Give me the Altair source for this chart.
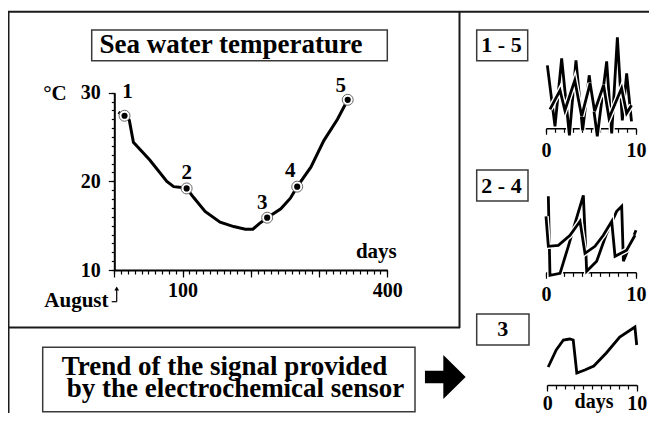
import altair as alt
import pandas as pd

FONT = "Liberation Serif"
W, H = 641, 405

# ---------------- data ----------------
# main curve: sea water temperature (°C) vs days from August
main_days = [6, 15, 22, 28, 52, 77, 87, 99, 106, 116, 133, 155, 175, 192, 203, 212, 224, 244, 258, 268, 288, 307, 327, 342]
main_temp = [27.8, 27.4, 26.9, 24.4, 22.4, 20.0, 19.4, 19.3, 19.2, 18.2, 16.6, 15.4, 14.9, 14.6, 14.6, 15.2, 15.9, 16.9, 18.1, 19.4, 21.6, 24.6, 27.0, 29.2]

sample_ids = ["1", "2", "3", "4", "5"]
sample_days = [15, 106, 224, 268, 342]
sample_temp = [27.4, 19.2, 15.9, 19.4, 29.2]

x_major = [0, 100, 200, 300, 400]
x_labelled = [100, 400]
x_minor = list(range(0, 401, 10))
y_major = [10, 20, 30]
y_minor = list(range(10, 31))

# sensor signal panels (days 0-10, arbitrary signal units)
p1a_days = [0.15, 1.0, 1.74, 2.6, 3.33, 4.07, 4.8, 5.7, 6.74, 7.3, 7.93, 8.48, 8.96, 9.5]
p1a_vals = [63, 2, 70, -7, 68, -2, 53, -8, 67, -5, 91, 8, 55, 7]
p1b_days = [0.44, 1.56, 2.1, 3.2, 3.96, 4.9, 5.4, 6.4, 7.0, 8.4, 8.96, 9.5]
p1b_vals = [19, 38, 18, 48, 12, 45, 17, 43, 10, 40, 15, 23]

p2a_days = [0.26, 0.44, 1.56, 2.48, 3.22, 4.15, 4.52, 5.63, 6.74, 7.85, 8.41, 8.6, 10.0]
p2a_vals = [76, -3, -1, 26, 49, 77, 1, 11, 39, 61, 66, 11, 42]
p2b_days = [0.0, 0.26, 1.37, 2.67, 3.78, 4.33, 5.44, 6.37, 7.3, 7.67, 8.96, 9.89]
p2b_vals = [56, 26, 27, 37, 51, 19, 26, 37, 51, 16, 22, 37]

p3_days = [0.1, 1.0, 1.8, 2.5, 2.9, 3.3, 4.2, 5.2, 6.6, 8.1, 9.8, 10.0]
p3_vals = [18, 35, 45, 46, 45, 12, 15, 19, 32, 48, 58, 40]

mini_major = [0, 10]
mini_minor = list(range(0, 11))

ONE = pd.DataFrame({"k": [0]})

# ---------------- helpers ----------------
def rule(x, y, x2, y2, w=2.0, color="#1a1a1a"):
    return alt.Chart(ONE).mark_rule(color=color, strokeWidth=w).encode(
        x=alt.value(x), y=alt.value(y), x2=alt.value(x2), y2=alt.value(y2))


def box(x, y, x2, y2, w=1.5, color="#3a3a3a"):
    return alt.Chart(ONE).mark_rect(fill="white", stroke=color, strokeWidth=w).encode(
        x=alt.value(x), y=alt.value(y), x2=alt.value(x2), y2=alt.value(y2))


def label(text, x, y, size=20, align="center"):
    return alt.Chart(ONE).mark_text(
        text=text, font=FONT, fontWeight="bold", fontSize=size, align=align,
        baseline="alphabetic", color="black").encode(x=alt.value(x), y=alt.value(y))


def xaxis(offset, values, tick, labelled=None, domain=True, dw=2.0, pad=4.0, lsize=20):
    kw = dict(orient="bottom", offset=offset, values=values, tickSize=tick,
              tickColor="black", tickWidth=1.2, grid=False, title=None,
              domain=domain)
    if domain:
        kw.update(domainColor="black", domainWidth=dw)
    if labelled is None:
        kw.update(labels=False)
    else:
        arr = "[" + ",".join(str(v) for v in labelled) + "]"
        kw.update(labelExpr=f"indexof({arr}, datum.value) >= 0 ? datum.label : ''",
                  labelFont=FONT, labelFontWeight="bold", labelFontSize=lsize,
                  labelColor="black", labelPadding=pad, labelFlush=False,
                  labelOverlap=False)
    return alt.Axis(**kw)


def yaxis(offset, values, tick, labelled=False, domain=True, pad=8.0):
    kw = dict(orient="left", offset=offset, values=values, tickSize=tick,
              tickColor="black", tickWidth=1.2, grid=False, title=None, domain=domain)
    if domain:
        kw.update(domainColor="black", domainWidth=2.0)
    if labelled:
        kw.update(labelFont=FONT, labelFontWeight="bold", labelFontSize=20,
                  labelColor="black", labelPadding=pad, labelFlush=False,
                  labelOverlap=False)
    else:
        kw.update(labels=False)
    return alt.Axis(**kw)


layers = []

# ---------------- frame & boxes ----------------
layers += [
    rule(0, 3.7, W, 3.7),
    rule(0.5, 3.7, 0.5, H),
    rule(451.5, 3.7, 451.5, 320),
    rule(0, 319.6, 452, 319.6),
    box(83.7, 22, 379.3, 52.7),
    box(34.7, 339.3, 407, 403.7),
    box(468.7, 22, 519.7, 52.7),
    box(468.7, 162, 520, 193),
    box(468.7, 306, 521, 337),
]

layers += [
    label("Sea water temperature", 223, 44.7, size=27),
    label("Trend of the signal provided", 53.7, 366.5, size=27, align="left"),
    label("by the electrochemical sensor", 58.7, 389, size=27, align="left"),
    label("1 - 5", 493.5, 43.7, size=22),
    label("2 - 4", 493.5, 185.3, size=22),
    label("3", 494.8, 328, size=22),
    label("°C", 47, 92, size=21),
    label("days", 368.3, 250.3, size=21),
    label("August", 36.3, 298.5, size=21, align="left"),
    label("days", 586, 399.5, size=20),
]

# August arrow
layers += [
    rule(108.7, 281, 108.7, 293.7, w=1.2, color="black"),
    rule(103.7, 293.7, 108.7, 293.7, w=1.2, color="black"),
    alt.Chart(ONE).mark_point(shape="triangle-up", filled=True, color="black", size=22, opacity=1).encode(
        x=alt.value(108.7), y=alt.value(280.5)),
]

# big black arrow
arrow_path = "M-0.925,-0.286 L-0.09,-0.286 L-0.09,-1 L0.925,0 L-0.09,1 L-0.09,0.286 L-0.925,0.286 Z"
layers.append(
    alt.Chart(ONE).mark_point(shape=arrow_path, filled=True, color="black", size=1936, opacity=1).encode(
        x=alt.value(437.3), y=alt.value(369)))

# ---------------- main temperature chart ----------------
xs = alt.Scale(domain=[0, 400], range=[106.3, 379.3], nice=False, zero=False)
ys = alt.Scale(domain=[10, 30], range=[262, 84.7], nice=False, zero=False)
main_df = pd.DataFrame({"day": main_days, "temp": main_temp})
samp_df = pd.DataFrame({"id": sample_ids, "day": sample_days, "temp": sample_temp})

layers.append(
    alt.Chart(main_df).mark_line(color="black", strokeWidth=3).encode(
        x=alt.X("day:Q", scale=xs, axis=xaxis(262 - H, x_major, 7, labelled=x_labelled, pad=3.5)),
        y=alt.Y("temp:Q", scale=ys, axis=yaxis(-106.3, y_major, 6, labelled=True)),
    ))
layers.append(
    alt.Chart(samp_df).mark_circle(fill="white", stroke="#666", strokeWidth=1, size=120, opacity=1).encode(
        x=alt.X("day:Q", scale=xs, axis=xaxis(262 - H, x_minor, 4, domain=False)),
        y=alt.Y("temp:Q", scale=ys, axis=yaxis(-106.3, y_minor, 3, domain=False)),
    ))
layers.append(
    alt.Chart(samp_df).mark_circle(color="black", size=38, opacity=1).encode(
        x=alt.X("day:Q", scale=xs, axis=None),
        y=alt.Y("temp:Q", scale=ys, axis=None),
    ))

label_offsets = [(3, -24), (0, -15), (-5, -15), (-7, -16), (-7, -13.5)]
for sid, (dx, dy) in zip(sample_ids, label_offsets):
    layers.append(
        alt.Chart(samp_df).transform_filter(alt.datum.id == sid).mark_text(
            font=FONT, fontWeight="bold", fontSize=21, color="black",
            align="center", baseline="middle", dx=dx, dy=dy).encode(
            x=alt.X("day:Q", scale=xs, axis=None),
            y=alt.Y("temp:Q", scale=ys, axis=None),
            text="id:N",
        ))

# ---------------- mini panels ----------------
def mini(series, xr, yr, pad):
    out = []
    mxs = alt.Scale(domain=[0, 10], range=xr, nice=False, zero=False)
    mys = alt.Scale(domain=[0, 100], range=yr, nice=False, zero=False)
    off = yr[0] - H
    for i, (d, v) in enumerate(series):
        df = pd.DataFrame({"d": d, "v": v, "i": list(range(len(d)))})
        for j, (col, w) in enumerate([("white", 5.5), ("black", 2.8)]):
            if i == 0 and j == 0:
                ax = xaxis(off, mini_minor, 4, domain=False)
            elif i == 0 and j == 1:
                ax = xaxis(off, mini_major, 6, labelled=mini_major, dw=1.5, pad=pad)
            else:
                ax = None
            out.append(
                alt.Chart(df).mark_line(color=col, strokeWidth=w).encode(
                    x=alt.X("d:Q", scale=mxs, axis=ax),
                    y=alt.Y("v:Q", scale=mys, axis=None),
                    order="i:Q",
                ))
    return out


layers += mini([(p1a_days, p1a_vals), (p1b_days, p1b_vals)], [538, 628], [120.3, 20.3], 6.5)
layers += mini([(p2a_days, p2a_vals), (p2b_days, p2b_vals)], [538, 628], [264.3, 164.3], 6.0)
layers += mini([(p3_days, p3_vals)], [539.3, 628.7], [377, 277], 2.0)

chart = alt.layer(*layers).resolve_scale(x="independent", y="independent").properties(
    width=W, height=H, autosize=alt.AutoSizeParams(type="none"), padding=0,
    background="white",
).configure_view(strokeOpacity=0)

chart.save("out.html", embed_options={"renderer": "svg", "actions": False})
